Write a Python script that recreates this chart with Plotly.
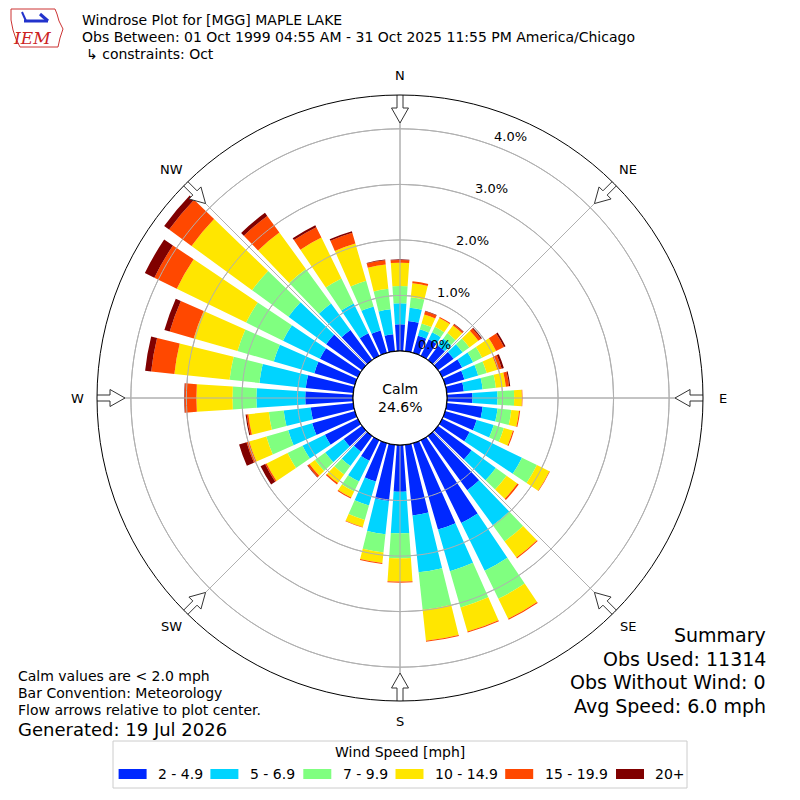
"""Windrose for [MGG] MAPLE LAKE, October obs, rebuilt with Plotly barpolar."""

import numpy as np
import plotly.graph_objects as go

# direction bins, meteorological convention (deg from north)
directions = list(range(0, 360, 10))

speed_bins = ["2 - 4.9", "5 - 6.9", "7 - 9.9", "10 - 14.9", "15 - 19.9", "20+"]
SPEED_COLORS = ["#0028FF", "#00D4FF", "#80FF80", "#FFE600", "#FF4800", "#800000"]

# cumulative frequency (%) reached at the top of each speed band, per direction
top_2 = [0.48, 0.55, 0.32, 0.33, 0.32, 0.35, 0.40, 0.36, 0.31, 0.46, 0.65, 0.59,
         0.55, 0.75, 1.21, 1.66, 1.62, 1.28, 0.84, 1.02, 0.72, 0.41, 0.35, 0.41,
         0.66, 0.80, 0.77, 0.86, 0.86, 0.76, 0.76, 0.80, 0.67, 0.45, 0.42, 0.31]
top_5 = [0.86, 0.79, 0.44, 0.47, 0.48, 0.55, 0.62, 0.62, 0.65, 0.91, 0.92, 0.91,
         1.60, 1.29, 1.99, 2.62, 2.40, 2.31, 1.59, 1.62, 1.17, 0.83, 0.67, 0.82,
         1.11, 1.25, 1.26, 1.74, 1.70, 1.52, 1.50, 1.64, 1.26, 1.05, 0.87, 0.76]
top_7 = [1.17, 0.98, 0.55, 0.58, 0.60, 0.70, 0.80, 0.78, 0.89, 1.21, 1.17, 1.10,
         1.90, 1.53, 2.35, 3.18, 3.08, 2.99, 2.04, 1.95, 1.44, 1.03, 0.86, 1.05,
         1.41, 1.66, 1.53, 2.17, 2.24, 2.20, 2.24, 2.45, 2.03, 1.55, 1.35, 1.13]
top_10 = [1.59, 1.23, 0.72, 0.76, 0.77, 0.90, 1.08, 0.98, 1.07, 1.35, 1.31, 1.27,
          2.15, 1.77, 2.71, 3.58, 3.53, 3.55, 2.46, 2.14, 1.57, 1.15, 1.05, 1.17,
          1.83, 1.98, 1.90, 2.82, 3.24, 3.02, 3.63, 3.80, 2.84, 2.37, 2.05, 1.57]
top_15 = [1.64, 1.27, 0.78, 0.78, 0.80, 0.96, 1.24, 1.06, 1.13, 1.36, 1.33, 1.29,
          2.16, 1.80, 2.73, 3.60, 3.55, 3.57, 2.48, 2.16, 1.58, 1.17, 1.08, 1.21,
          1.86, 2.03, 1.93, 3.03, 3.66, 3.47, 4.08, 4.30, 3.21, 2.58, 2.25, 1.65]
top_20 = [1.65, 1.27, 0.79, 0.78, 0.81, 0.98, 1.27, 1.10, 1.15, 1.36, 1.33, 1.29,
          2.16, 1.80, 2.73, 3.60, 3.55, 3.57, 2.48, 2.16, 1.58, 1.17, 1.08, 1.22,
          1.95, 2.17, 1.95, 3.04, 3.77, 3.57, 4.27, 4.41, 3.28, 2.62, 2.28, 1.66]

calm_pct = 24.6
radial_ticks = [0, 1, 2, 3, 4]
compass_angles = [0, 45, 90, 135, 180, 225, 270, 315]
compass_labels = ["N", "NE", "E", "SE", "S", "SW", "W", "NW"]

title_lines = [
    "Windrose Plot for [MGG] MAPLE LAKE",
    "Obs Between: 01 Oct 1999 04:55 AM - 31 Oct 2025 11:55 PM America/Chicago",
    "\u21b3 constraints: Oct",
]
notes = [
    "Calm values are < 2.0 mph",
    "Bar Convention: Meteorology",
    "Flow arrows relative to plot center.",
]
generated = "Generated: 19 Jul 2026"
summary = ["Summary", "Obs Used: 11314", "Obs Without Wind: 0", "Avg Speed: 6.0 mph"]
legend_title = "Wind Speed [mph]"

# geometry of the rose in the 800x800 page
W = H = 800
CX, CY, R_PX = 400, 398, 303
HOLE_PX = 47
RMAX = 4.61
COMPASS_LABEL_PX = 323
GRID = "#b0b0b0"
FONT = "DejaVu Sans"

# legend box layout (pixels)
LEG_BOX = (113, 741, 687, 788)
LEG_PATCH_X = [118.6, 210.4, 303.3, 395.5, 505.2, 616.0]
LEG_ROW_Y = 774


def px_to_r(px):
    """Pixel distance from centre -> radial data value (hole counts as 0)."""
    return (px - HOLE_PX) / (R_PX - HOLE_PX) * RMAX


def r_to_px(r):
    return HOLE_PX + r / RMAX * (R_PX - HOLE_PX)


def px(x_px):
    return x_px / W


def py(y_px):
    return 1 - y_px / H


def plain_line(r, theta, color, width):
    return go.Scatterpolar(
        r=r, theta=theta, mode="lines", line=dict(color=color, width=width),
        showlegend=False, hoverinfo="skip",
    )


def note(text, x_px, y_px, size=14, anchor="left", **kw):
    fig.add_annotation(
        text=text, x=px(x_px), y=py(y_px), xref="paper", yref="paper",
        xanchor=anchor, yanchor="middle", showarrow=False,
        font=dict(size=size, **kw),
    )


fig = go.Figure()

# stacked bars: band frequency = difference of the cumulative tops
tops = np.vstack([np.zeros(len(directions)), top_2, top_5, top_7, top_10, top_15, top_20])
freqs = np.diff(tops, axis=0)
for i, label in enumerate(speed_bins):
    fig.add_trace(go.Barpolar(
        r=freqs[i], theta=directions, width=7.8, name=label,
        marker=dict(color=SPEED_COLORS[i], line=dict(width=0)),
        showlegend=False, hoverinfo="skip",
    ))

# grid drawn over the bars, like matplotlib does here
ring_theta = np.arange(0, 361, 2)
for v in radial_ticks[1:]:
    fig.add_trace(plain_line(np.full(len(ring_theta), v), ring_theta, GRID, 1))
for ang in compass_angles:
    fig.add_trace(plain_line([0, RMAX], [ang, ang], GRID, 1))

# black ring around the calm area
fig.add_trace(plain_line(np.zeros(len(ring_theta)), ring_theta, "black", 1.2))

# hollow flow arrows pointing at the centre
arrow_xy = [(-3, 305), (3, 305), (3, 290), (8.5, 290), (0, 275), (-8.5, 290), (-3, 290), (-3, 305)]
for ang in compass_angles:
    rr = [px_to_r(np.hypot(x, d)) for x, d in arrow_xy]
    tt = [ang + np.degrees(np.arctan2(x, d)) for x, d in arrow_xy]
    fig.add_trace(go.Scatterpolar(
        r=rr, theta=tt, mode="lines", fill="toself", fillcolor="white",
        line=dict(color="#333333", width=1), cliponaxis=False,
        showlegend=False, hoverinfo="skip",
    ))

fig.update_layout(
    width=W, height=H,
    margin=dict(l=0, r=0, t=0, b=0),
    paper_bgcolor="white",
    font=dict(family=FONT, size=14, color="black"),
    showlegend=False,
    polar=dict(
        domain=dict(x=[px(CX - R_PX), px(CX + R_PX)],
                    y=[py(CY + R_PX), py(CY - R_PX)]),
        hole=HOLE_PX / R_PX,
        bgcolor="white",
        barmode="stack",
        radialaxis=dict(
            range=[0, RMAX], tickvals=radial_ticks, showticklabels=False,
            showline=False, ticks="", gridcolor=GRID, gridwidth=1,
        ),
        angularaxis=dict(
            direction="clockwise", rotation=90, tickvals=compass_angles,
            showticklabels=False, ticks="",
            showline=True, linecolor="black", linewidth=1,
            gridcolor=GRID, gridwidth=1,
        ),
    ),
)

# compass labels centred on a circle just outside the arrows
for ang, lab in zip(compass_angles, compass_labels):
    a = np.radians(ang)
    note(lab, CX + COMPASS_LABEL_PX * np.sin(a), CY - COMPASS_LABEL_PX * np.cos(a),
         size=13, anchor="center")

# radial labels, set just outside each ring along a ray at 20 deg
lab_dir = np.radians(20)
for v in radial_ticks:
    d = r_to_px(v) + 14.6
    x_lab = CX + d * np.sin(lab_dir) + 13.8 * np.cos(lab_dir)
    y_lab = CY - d * np.cos(lab_dir) + 13.8 * np.sin(lab_dir)
    note(f"{v:.1f}%", x_lab, y_lab, size=13, anchor="center")

# centre label
fig.add_annotation(
    text=f"Calm<br>{calm_pct:.1f}%", x=px(CX), y=py(CY), xref="paper", yref="paper",
    xanchor="center", yanchor="middle", showarrow=False, font=dict(size=14),
)

# header
for i, (line, x_px) in enumerate(zip(title_lines, [80, 80, 84])):
    note(line, x_px, 20 + 17 * i)

# rough IEM logo: state outline, station glyph, letters
outline = [(11, 9), (55, 9), (57, 14), (59, 21), (63, 29), (60, 38), (58, 47),
           (20, 47), (16, 39), (13, 30), (11, 20)]
fig.add_shape(
    type="path", xref="paper", yref="paper",
    path="M " + " L ".join(f"{px(x)} {py(y)}" for x, y in outline) + " Z",
    line=dict(color="#cc3333", width=1),
)
fig.add_shape(type="line", xref="paper", yref="paper", x0=px(24), x1=px(48),
              y0=py(21), y1=py(21), line=dict(color="#2233cc", width=3))
fig.add_shape(type="line", xref="paper", yref="paper", x0=px(40), x1=px(48),
              y0=py(14), y1=py(21), line=dict(color="#2233cc", width=3))
fig.add_shape(type="line", xref="paper", yref="paper", x0=px(26), x1=px(22),
              y0=py(21), y1=py(12), line=dict(color="#2233cc", width=2))
note("<i>IEM</i>", 32, 38, size=17, anchor="center", family="DejaVu Serif", color="#cc2222")

# notes bottom left
for i, line in enumerate(notes):
    note(line, 16, 676 + 17 * i)
note(generated, 16, 729, size=18)

# summary bottom right
for i, line in enumerate(summary):
    note(line, 768, 635 + 23.7 * i, size=19, anchor="right")

# legend box with wide colour patches
x0, y0, x1, y1 = LEG_BOX
fig.add_shape(type="rect", xref="paper", yref="paper",
              x0=px(x0), x1=px(x1), y0=py(y1), y1=py(y0),
              line=dict(color="#cccccc", width=1), fillcolor="white", layer="below")
note(legend_title, (x0 + x1) / 2, 752, anchor="center")
for xp, label, color in zip(LEG_PATCH_X, speed_bins, SPEED_COLORS):
    fig.add_shape(type="rect", xref="paper", yref="paper",
                  x0=px(xp), x1=px(xp + 28), y0=py(LEG_ROW_Y + 5), y1=py(LEG_ROW_Y - 5),
                  line=dict(width=0), fillcolor=color)
    note(label, xp + 37.3, LEG_ROW_Y)

fig.write_html("out.html", config={"displayModeBar": False},
               post_script="document.body.style.margin = '0';")
